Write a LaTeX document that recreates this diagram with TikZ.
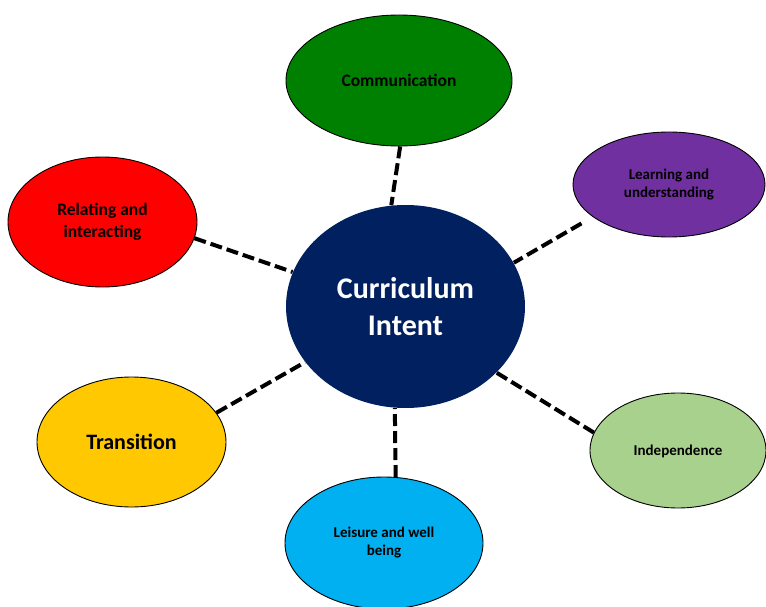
\documentclass[tikz,border=0pt]{standalone}
\usepackage{fontspec}
\setmainfont{Carlito}
\usetikzlibrary{shapes.geometric}
\definecolor{intentblue}{HTML}{002060}
\definecolor{commgreen}{HTML}{008000}
\definecolor{learnpurple}{HTML}{7030A0}
\definecolor{relatered}{HTML}{FF0000}
\definecolor{transgold}{HTML}{FFC800}
\definecolor{leisureblue}{HTML}{00B0F0}
\definecolor{indepgreen}{HTML}{A9D18E}
\begin{document}
\begin{tikzpicture}[x=1pt,y=-1pt,
	bubble/.style={ellipse,draw=black,line width=0.9pt,inner sep=0pt,align=center},
	link/.style={line width=4pt,dash pattern=on 12pt off 5pt}]
	\useasboundingbox (0,0) rectangle (766,607);
	\clip (0,0) rectangle (766,607);
	\node[bubble,draw=none,fill=intentblue,text=white,minimum width=239pt,minimum height=203pt,font=\bfseries\fontsize{30}{37}\selectfont] (intent) at (405.5,306.5) {Curriculum\\Intent};
	\node[bubble,fill=commgreen,minimum width=226pt,minimum height=131pt,text depth=0pt,font=\bfseries\fontsize{17.5}{21}\selectfont] (comm) at (399,80.5) {Communication};
	\node[bubble,fill=learnpurple,minimum width=192pt,minimum height=105pt,font=\bfseries\fontsize{15}{18}\selectfont] (learn) at (669,184.5) {Learning and\\understanding};
	\node[bubble,fill=relatered,minimum width=189pt,minimum height=130pt,font=\bfseries\fontsize{17.5}{21.5}\selectfont] (relate) at (102.5,222) {Relating and\\interacting};
	\node[bubble,fill=transgold,minimum width=189pt,minimum height=130pt,font=\bfseries\fontsize{22}{26}\selectfont] (trans) at (131.5,442) {Transition};
	\node[bubble,fill=leisureblue,minimum width=198pt,minimum height=132pt,font=\bfseries\fontsize{15}{18}\selectfont] (leisure) at (384,543) {Leisure and well\\being};
	\node[bubble,fill=indepgreen,minimum width=176pt,minimum height=115pt,text depth=0pt,font=\bfseries\fontsize{15}{18}\selectfont] (indep) at (678,450.5) {Independence};
	\draw[link] (comm.-89) -- (intent.98);
	\draw[link,shorten <=13pt] (learn.203) -- (intent.22);
	\draw[link] (relate.-10) -- (intent.163);
	\draw[link] (trans.19) -- (intent.209);
	\draw[link] (leisure.80) -- (intent.264);
	\draw[link] (indep.168) -- (intent.-36);
\end{tikzpicture}
\end{document}
